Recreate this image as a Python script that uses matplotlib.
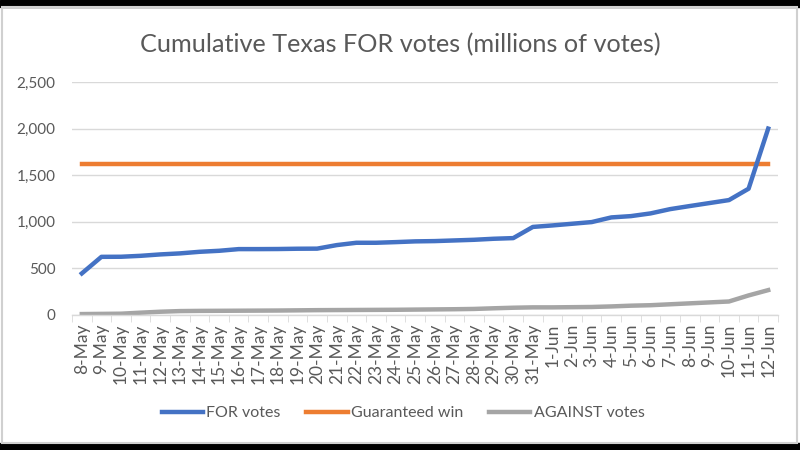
import matplotlib
matplotlib.use("Agg")
import matplotlib.pyplot as plt
from matplotlib.patches import Rectangle
from matplotlib.ticker import FuncFormatter

dates = [f"{d}-May" for d in range(8, 32)] + [f"{d}-Jun" for d in range(1, 13)]
for_votes = [446, 624, 625, 635, 650, 661, 678, 689, 707, 707, 708, 711,
             712, 750, 775, 775, 782, 790, 793, 800, 807, 818, 825, 945,
             961, 979, 997, 1047, 1061, 1090, 1136, 1169, 1201, 1233, 1355, 2000]
guaranteed_win = [1625] * len(dates)
against_votes = [10, 12, 14, 25, 35, 42, 44, 45, 46, 47, 48, 50,
                 52, 53, 54, 55, 56, 58, 60, 62, 65, 72, 78, 82,
                 82, 84, 86, 92, 100, 105, 115, 125, 135, 145, 210, 267]

plt.rcParams['font.family'] = ['Lato', 'DejaVu Sans']
fig = plt.figure(figsize=(8, 4.5), dpi=100)
fig.patch.set_facecolor('white')

# black bands and gray frame
fig.add_artist(Rectangle((0, 1 - 7/450), 1, 7/450, transform=fig.transFigure, color='black', zorder=0))
fig.add_artist(Rectangle((0, 0), 1, 7/450, transform=fig.transFigure, color='black', zorder=0))
fig.add_artist(Rectangle((2/800, 7/450), 795/800, 436/450, transform=fig.transFigure,
                         fill=False, edgecolor='#d0d0d0', linewidth=1.5, zorder=0))

ax = fig.add_axes([72/800, 1 - 315/450, 706/800, (315 - 82)/450])
x = list(range(len(dates)))
ax.plot(x, for_votes, color='#4472C4', lw=3.2, label='FOR votes', solid_joinstyle='round', zorder=3)
ax.plot(x, guaranteed_win, color='#ED7D31', lw=3.2, label='Guaranteed win', zorder=2)
ax.plot(x, against_votes, color='#A5A5A5', lw=3.2, label='AGAINST votes', solid_joinstyle='round', zorder=2)

ax.set_xlim(-0.5, len(dates) - 0.5)
ax.set_ylim(0, 2500)
ax.set_yticks([0, 500, 1000, 1500, 2000, 2500])
ax.yaxis.set_major_formatter(FuncFormatter(lambda v, p: f"{int(v):,}"))
ax.grid(axis='y', color='#d9d9d9', lw=1)
ax.set_axisbelow(True)
for s in ['top', 'right', 'left']:
    ax.spines[s].set_visible(False)
ax.spines['bottom'].set_color('#d9d9d9')
ax.spines['bottom'].set_linewidth(1)

ax.set_xticks(x)
ax.set_xticklabels(dates, rotation=90, fontsize=12.5, color='#595959')
ax.set_xticks([i - 0.5 for i in range(len(dates) + 1)], minor=True)
ax.tick_params(axis='x', which='major', length=0, pad=6)
ax.tick_params(axis='x', which='minor', length=5, color='#d9d9d9')
ax.tick_params(axis='y', length=0, labelsize=11, labelcolor='#595959', pad=12)

fig.text(0.5, 1 - 45/450, 'Cumulative Texas FOR votes (millions of votes)',
         ha='center', va='center', fontsize=18.2, color='#595959')

leg = ax.legend(loc='center', bbox_to_anchor=(403/800, 1 - 413/450), bbox_transform=fig.transFigure,
                ncol=3, frameon=False, fontsize=11.5, handlelength=2.6, handletextpad=0.2,
                columnspacing=1.6, labelcolor='#595959')

fig.savefig('out.png', dpi=100, facecolor='white')
